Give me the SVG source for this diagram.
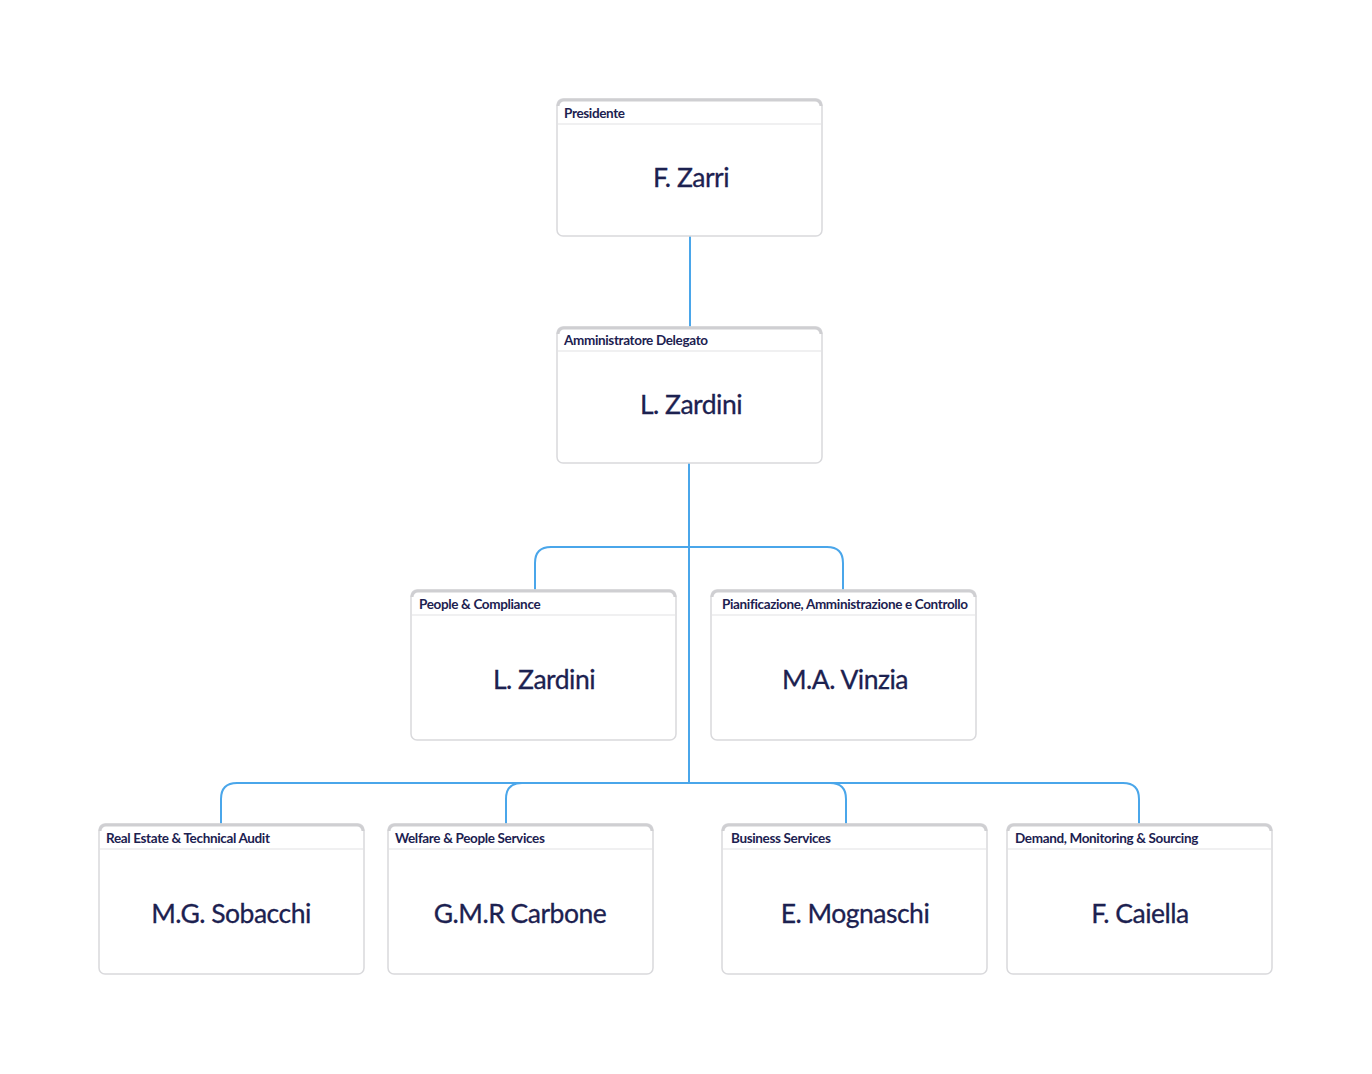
<svg xmlns="http://www.w3.org/2000/svg" width="1372" height="1074" viewBox="0 0 1372 1074">
<style>
.box{fill:#ffffff;stroke:#d9d9dc;stroke-width:1.5}
.band{fill:none;stroke:#cfcfd2;stroke-width:3}
.sep{stroke:#e2e2e4;stroke-width:1.2}
.hdr{font-family:Lato,"Liberation Sans",sans-serif;font-weight:700;font-size:13.5px;fill:#1c2150;letter-spacing:-0.35px}
.name{font-family:Lato,"Liberation Sans",sans-serif;font-weight:400;font-size:26.5px;fill:#1c2150;text-anchor:middle;letter-spacing:-0.5px;stroke:#1c2150;stroke-width:0.3}
.conn{fill:none;stroke:#4aa6ea;stroke-width:2}
</style>
<rect width="1372" height="1074" fill="#ffffff"/>
<g id="connectors">
<path class="conn" d="M690,236 V327"/>
<path class="conn" d="M689,463 V783"/>
<path class="conn" d="M689,547 H551 Q535,547 535,563 V590"/>
<path class="conn" d="M689,547 H827 Q843,547 843,563 V590"/>
<path class="conn" d="M689,783 H237 Q221,783 221,799 V824"/>
<path class="conn" d="M689,783 H522 Q506,783 506,799 V824"/>
<path class="conn" d="M689,783 H830 Q846,783 846,799 V824"/>
<path class="conn" d="M689,783 H1123 Q1139,783 1139,799 V824"/>
</g>
<g id="presidente">
<rect class="box" x="557" y="99" width="265" height="137" rx="6"/>
<path class="band" d="M558,106 a6,6 0 0 1 6,-6 H815 a6,6 0 0 1 6,6"/>
<line class="sep" x1="558" y1="124" x2="821" y2="124"/>
<text class="hdr" x="564" y="118">Presidente</text>
<text class="name" x="691" y="187">F. Zarri</text>
</g>
<g id="amministratore">
<rect class="box" x="557" y="327" width="265" height="136" rx="6"/>
<path class="band" d="M558,334 a6,6 0 0 1 6,-6 H815 a6,6 0 0 1 6,6"/>
<line class="sep" x1="558" y1="351" x2="821" y2="351"/>
<text class="hdr" x="564" y="345">Amministratore Delegato</text>
<text class="name" x="691" y="414">L. Zardini</text>
</g>
<g id="people-compliance">
<rect class="box" x="411" y="590" width="265" height="150" rx="6"/>
<path class="band" d="M412,597 a6,6 0 0 1 6,-6 H669 a6,6 0 0 1 6,6"/>
<line class="sep" x1="412" y1="615" x2="675" y2="615"/>
<text class="hdr" x="419" y="609">People &amp; Compliance</text>
<text class="name" x="544" y="689">L. Zardini</text>
</g>
<g id="pianificazione">
<rect class="box" x="711" y="590" width="265" height="150" rx="6"/>
<path class="band" d="M712,597 a6,6 0 0 1 6,-6 H969 a6,6 0 0 1 6,6"/>
<line class="sep" x1="712" y1="615" x2="975" y2="615"/>
<text class="hdr" x="722" y="609">Pianificazione, Amministrazione e Controllo</text>
<text class="name" x="845" y="689">M.A. Vinzia</text>
</g>
<g id="real-estate">
<rect class="box" x="99" y="824" width="265" height="150" rx="6"/>
<path class="band" d="M100,831 a6,6 0 0 1 6,-6 H357 a6,6 0 0 1 6,6"/>
<line class="sep" x1="100" y1="849" x2="363" y2="849"/>
<text class="hdr" x="106" y="843">Real Estate &amp; Technical Audit</text>
<text class="name" x="231" y="923">M.G. Sobacchi</text>
</g>
<g id="welfare">
<rect class="box" x="388" y="824" width="265" height="150" rx="6"/>
<path class="band" d="M389,831 a6,6 0 0 1 6,-6 H646 a6,6 0 0 1 6,6"/>
<line class="sep" x1="389" y1="849" x2="652" y2="849"/>
<text class="hdr" x="395" y="843">Welfare &amp; People Services</text>
<text class="name" x="520" y="923">G.M.R Carbone</text>
</g>
<g id="business">
<rect class="box" x="722" y="824" width="265" height="150" rx="6"/>
<path class="band" d="M723,831 a6,6 0 0 1 6,-6 H980 a6,6 0 0 1 6,6"/>
<line class="sep" x1="723" y1="849" x2="986" y2="849"/>
<text class="hdr" x="731" y="843">Business Services</text>
<text class="name" x="855" y="923">E. Mognaschi</text>
</g>
<g id="demand">
<rect class="box" x="1007" y="824" width="265" height="150" rx="6"/>
<path class="band" d="M1008,831 a6,6 0 0 1 6,-6 H1265 a6,6 0 0 1 6,6"/>
<line class="sep" x1="1008" y1="849" x2="1271" y2="849"/>
<text class="hdr" x="1015" y="843">Demand, Monitoring &amp; Sourcing</text>
<text class="name" x="1140" y="923">F. Caiella</text>
</g>
</svg>
